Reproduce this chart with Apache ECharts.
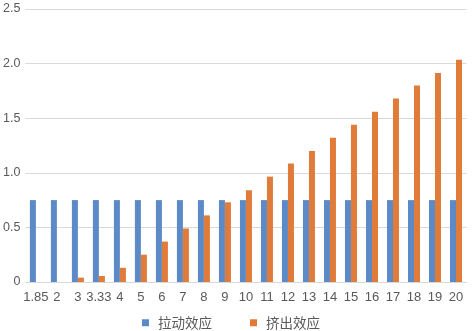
<!DOCTYPE html>
<html><head><meta charset="utf-8">
<script src="https://cdn.jsdelivr.net/npm/echarts@6/dist/echarts.min.js"></script>
<style>html,body{margin:0;padding:0;background:#fff}#c{width:472px;height:331px}</style>
</head><body><div id="c"></div>
<script>
const categories = ['1.85','2','3','3.33','4','5','6','7','8','9','10','11','12','13','14','15','16','17','18','19','20'];
const pullNames = '拉动效应';
const pushNames = '挤出效应';
const pullValues = [0.75,0.75,0.75,0.75,0.75,0.75,0.75,0.75,0.75,0.75,0.75,0.75,0.75,0.75,0.75,0.75,0.75,0.75,0.75,0.75,0.75];
const pushValues = [0,0,0.04,0.055,0.13,0.25,0.37,0.49,0.61,0.73,0.84,0.965,1.085,1.20,1.32,1.44,1.56,1.68,1.80,1.915,2.035];
const yMin = 0, yMax = 2.5, yStep = 0.5;

const chart = echarts.init(document.getElementById('c'), null, {renderer:'canvas'});
const font = '"Liberation Sans","Noto Sans CJK SC",sans-serif';
chart.setOption({
  animation:false,
  textStyle:{fontFamily:font},
  grid:{left:25,right:5.5,top:9,bottom:49,containLabel:false},
  legend:{
    data:[pullNames,pushNames],
    left:137, top:311, itemWidth:7, itemHeight:7, itemGap:38, icon:'rect',
    textStyle:{fontSize:13.5,color:'#595959',fontFamily:'"Noto Sans CJK SC",sans-serif',padding:[0,0,0,4]}
  },
  xAxis:{
    type:'category', data:categories,
    axisLine:{lineStyle:{color:'#d9d9d9',width:1}},
    axisTick:{show:false},
    axisLabel:{color:'#595959',fontSize:13,margin:9,interval:0}
  },
  yAxis:{
    type:'value', min:yMin, max:yMax, interval:yStep,
    axisLine:{show:false}, axisTick:{show:false},
    splitLine:{lineStyle:{color:'#d9d9d9',width:1}},
    axisLabel:{color:'#595959',fontSize:12.5,margin:5,
      formatter:v=> v===0?'0':v.toFixed(1)}
  },
  series:[
    {name:pullNames,type:'bar',data:pullValues,barWidth:6,barGap:'0%',itemStyle:{color:'#5b8ac6'}},
    {name:pushNames,type:'bar',data:pushValues,barWidth:6,barGap:'0%',itemStyle:{color:'#e07b39'}}
  ]
});
</script></body></html>
